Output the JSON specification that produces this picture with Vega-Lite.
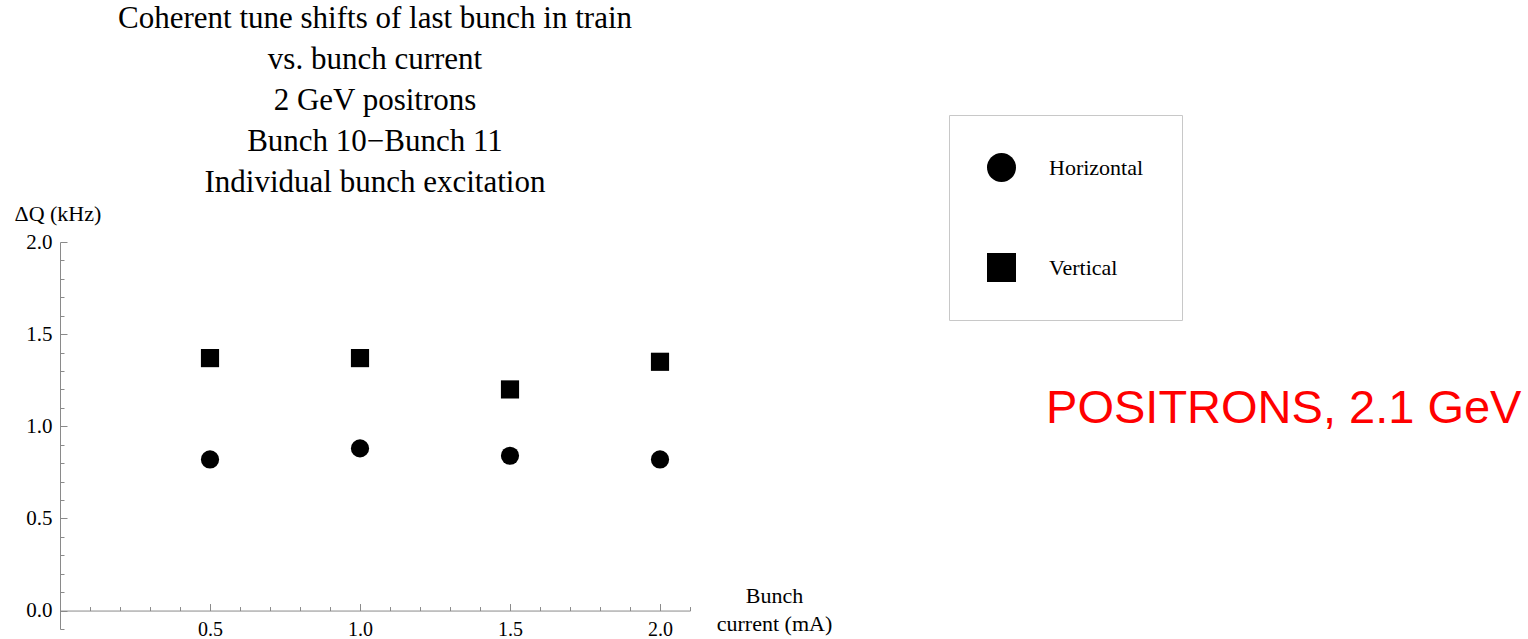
{
  "$schema": "https://vega.github.io/schema/vega-lite/v6.json",
  "autosize": "none",
  "width": 630,
  "height": 387,
  "padding": {"left": 60, "top": 242, "right": 838, "bottom": 10},
  "background": "white",
  "title": {
    "text": ["Coherent tune shifts of last bunch in train", "vs. bunch current", "2 GeV positrons", "Bunch 10\u2212Bunch 11", "Individual bunch excitation"],
    "anchor": "middle",
    "frame": "group",
    "font": "Liberation Serif",
    "fontSize": 31,
    "fontWeight": "normal",
    "color": "black",
    "lineHeight": 41,
    "offset": -84
  },
  "config": {
    "view": {"stroke": null},
    "axis": {"grid": false, "domainColor": "#8a8a8a", "tickColor": "#8a8a8a", "labelFont": "Liberation Serif", "labelFontSize": 21, "labelColor": "black", "titleFont": "Liberation Serif", "titleFontWeight": "normal", "titleColor": "black"},
    "legend": {"labelFont": "Liberation Serif", "labelFontSize": 22, "labelColor": "black"}
  },
  "datasets": {
    "pts": [
      {"current": 0.5, "dq": 0.82, "plane": "Horizontal"},
      {"current": 1.0, "dq": 0.88, "plane": "Horizontal"},
      {"current": 1.5, "dq": 0.84, "plane": "Horizontal"},
      {"current": 2.0, "dq": 0.82, "plane": "Horizontal"},
      {"current": 0.5, "dq": 1.37, "plane": "Vertical"},
      {"current": 1.0, "dq": 1.37, "plane": "Vertical"},
      {"current": 1.5, "dq": 1.2, "plane": "Vertical"},
      {"current": 2.0, "dq": 1.35, "plane": "Vertical"}
    ],
    "note": [{"current": 3.287, "dq": 1.02, "label": "POSITRONS, 2.1 GeV"}]
  },
  "layer": [
    {
      "data": {"name": "pts"},
      "mark": {"type": "point", "filled": true, "opacity": 1, "size": 330},
      "encoding": {
        "x": {"field": "current", "type": "quantitative", "scale": {"domain": [0, 2.1], "nice": false, "zero": false},
          "axis": {"orient": "bottom", "offset": -18.45, "values": [0.5, 1.0, 1.5, 2.0], "format": ".1f", "tickSize": -7, "labelPadding": 16, "labelFontSize": 20, "domain": true,
            "title": ["Bunch", "current (mA)"], "titleFontSize": 22, "titleLineHeight": 28, "titleAngle": 0, "titleAlign": "center", "titleBaseline": "alphabetic", "titleX": 714, "titleY": -8}},
        "y": {"field": "dq", "type": "quantitative", "scale": {"domain": [-0.1, 2.0], "nice": false, "zero": false},
          "axis": {"orient": "left", "values": [0, 0.5, 1.0, 1.5, 2.0], "format": ".1f", "tickSize": -7, "labelPadding": 15, "labelBaseline": "middle", "domain": true,
            "title": "\u0394Q (kHz)", "titleFontSize": 22, "titleAngle": 0, "titleAlign": "left", "titleBaseline": "alphabetic", "titleX": -46, "titleY": -22}},
        "shape": {"field": "plane", "type": "nominal", "scale": {"domain": ["Horizontal", "Vertical"], "range": ["circle", "square"]},
          "legend": {"orient": "none", "legendX": 889, "legendY": -127, "title": null, "symbolSize": 841, "symbolFillColor": "black", "symbolStrokeColor": "black", "symbolType": "circle", "padding": 38, "rowPadding": 71, "labelOffset": 33, "strokeColor": "#c8c8c8", "fillColor": "white", "symbolStrokeWidth": 0}},
        "color": {"value": "black"}
      }
    },
    {
      "data": {"name": "pts"},
      "mark": {"type": "point", "opacity": 0},
      "encoding": {
        "x": {"field": "current", "type": "quantitative", "scale": {"domain": [0, 2.1], "nice": false, "zero": false},
          "axis": {"orient": "bottom", "offset": -18.45, "values": [0.1, 0.2, 0.3, 0.4, 0.6, 0.7, 0.8, 0.9, 1.1, 1.2, 1.3, 1.4, 1.6, 1.7, 1.8, 1.9, 2.1], "labels": false, "tickSize": -4, "domain": false, "title": null}},
        "y": {"field": "dq", "type": "quantitative", "scale": {"domain": [-0.1, 2.0], "nice": false, "zero": false},
          "axis": {"orient": "left", "values": [-0.1, 0.1, 0.2, 0.3, 0.4, 0.6, 0.7, 0.8, 0.9, 1.1, 1.2, 1.3, 1.4, 1.6, 1.7, 1.8, 1.9], "labels": false, "tickSize": -4, "domain": false, "title": null}}
      }
    },
    {
      "data": {"name": "note"},
      "mark": {"type": "text", "align": "left", "baseline": "alphabetic", "font": "Liberation Sans", "fontSize": 47, "color": "#ff0000"},
      "encoding": {
        "x": {"field": "current", "type": "quantitative", "axis": null},
        "y": {"field": "dq", "type": "quantitative", "axis": null},
        "text": {"field": "label"}
      }
    }
  ],
  "resolve": {"axis": {"x": "independent", "y": "independent"}}
}
